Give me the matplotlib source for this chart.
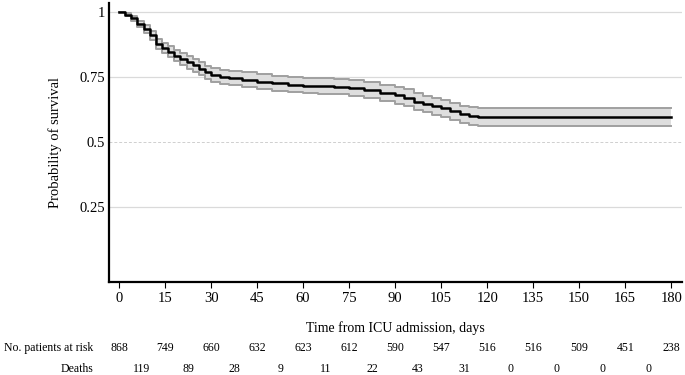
import matplotlib
matplotlib.use('Agg')
import matplotlib.pyplot as plt
import matplotlib.transforms as mtransforms

plt.rcParams['font.family'] = ['Liberation Serif', 'DejaVu Serif']

# Kaplan-Meier estimate
days = [0, 2, 4, 6, 8, 10, 12, 14, 16, 18, 20, 22, 24, 26, 28, 30, 33, 36, 40, 45,
        50, 55, 60, 65, 70, 75, 80, 85, 90, 93, 96, 99, 102, 105, 108, 111, 114, 117, 120, 180]
surv = [1.0, 0.99, 0.975, 0.955, 0.935, 0.91, 0.878, 0.862, 0.847, 0.832, 0.818, 0.806, 0.795, 0.781, 0.768, 0.758, 0.750, 0.745, 0.740, 0.732,
        0.726, 0.720, 0.716, 0.715, 0.713, 0.706, 0.699, 0.690, 0.680, 0.670, 0.655, 0.646, 0.638, 0.630, 0.618, 0.607, 0.600, 0.596, 0.595, 0.595]
lower = [1.0, 0.984, 0.966, 0.943, 0.921, 0.893, 0.859, 0.842, 0.826, 0.810, 0.795, 0.782, 0.770, 0.756, 0.742, 0.732, 0.723, 0.718, 0.712, 0.704,
         0.697, 0.691, 0.687, 0.685, 0.683, 0.675, 0.668, 0.659, 0.648, 0.638, 0.623, 0.614, 0.605, 0.597, 0.585, 0.574, 0.566, 0.562, 0.561, 0.560]
upper = [1.0, 0.996, 0.984, 0.967, 0.949, 0.927, 0.897, 0.882, 0.868, 0.854, 0.841, 0.830, 0.820, 0.806, 0.794, 0.784, 0.777, 0.772, 0.768, 0.760,
         0.755, 0.749, 0.745, 0.745, 0.743, 0.737, 0.730, 0.721, 0.712, 0.702, 0.687, 0.678, 0.671, 0.663, 0.651, 0.640, 0.634, 0.630, 0.629, 0.629]

# risk table
tick_days = [0, 15, 30, 45, 60, 75, 90, 105, 120, 135, 150, 165, 180]
at_risk = [868, 749, 660, 632, 623, 612, 590, 547, 516, 516, 509, 451, 238]
deaths = [119, 89, 28, 9, 11, 22, 43, 31, 0, 0, 0, 0]
y_ticks = [0.25, 0.5, 0.75, 1]
y_labels = ['0.25', '0.5', '0.75', '1']

fig = plt.figure(figsize=(6.85, 3.75), dpi=100)
ax = fig.add_axes([0.159, 0.248, 0.837, 0.744])

# 网格线
for y in y_ticks:
    if y == 0.5:
        ax.axhline(y, color='#cfcfcf', lw=0.7, ls=(0, (3, 2)), zorder=0)
    else:
        ax.axhline(y, color='#dadada', lw=0.9, zorder=0)

ax.fill_between(days, lower, upper, step='post', color='#dedede', lw=0, zorder=1)
ax.step(days, lower, where='post', color='#a0a0a0', lw=1.4, zorder=2)
ax.step(days, upper, where='post', color='#a0a0a0', lw=1.4, zorder=2)
ax.step(days, surv, where='post', color='black', lw=1.8, zorder=3)

ax.set_xlim(-3.3, 183.6)
ax.set_ylim(-0.0385, 1.0346)
ax.set_xticks(tick_days)
ax.set_yticks(y_ticks)
ax.set_yticklabels(y_labels)
ax.tick_params(axis='y', length=0, labelsize=10.5, pad=3)
ax.tick_params(axis='x', length=4, width=0.8, labelsize=10.5, pad=3)
for s in ['top', 'right']:
    ax.spines[s].set_visible(False)
for s in ['left', 'bottom']:
    ax.spines[s].set_linewidth(1.6)

ax.set_ylabel('Probability of survival', fontsize=10.5, labelpad=12)
ax.set_xlabel('Time from ICU admission, days', fontsize=10, labelpad=12)

# 风险表
trans = mtransforms.blended_transform_factory(ax.transData, fig.transFigure)
y_risk = 1 - 348 / 375
y_death = 1 - 369 / 375
fig.text(93 / 685, y_risk, 'No. patients at risk', ha='right', va='center', fontsize=8.5)
fig.text(93 / 685, y_death, 'Deaths', ha='right', va='center', fontsize=8.5)
for d, n in zip(tick_days, at_risk):
    ax.text(d, y_risk, str(n), transform=trans, ha='center', va='center', fontsize=8.5, clip_on=False)
for i, n in enumerate(deaths):
    ax.text(tick_days[i] + 7.5, y_death, str(n), transform=trans, ha='center', va='center', fontsize=8.5, clip_on=False)

fig.savefig('out.png', dpi=100)
